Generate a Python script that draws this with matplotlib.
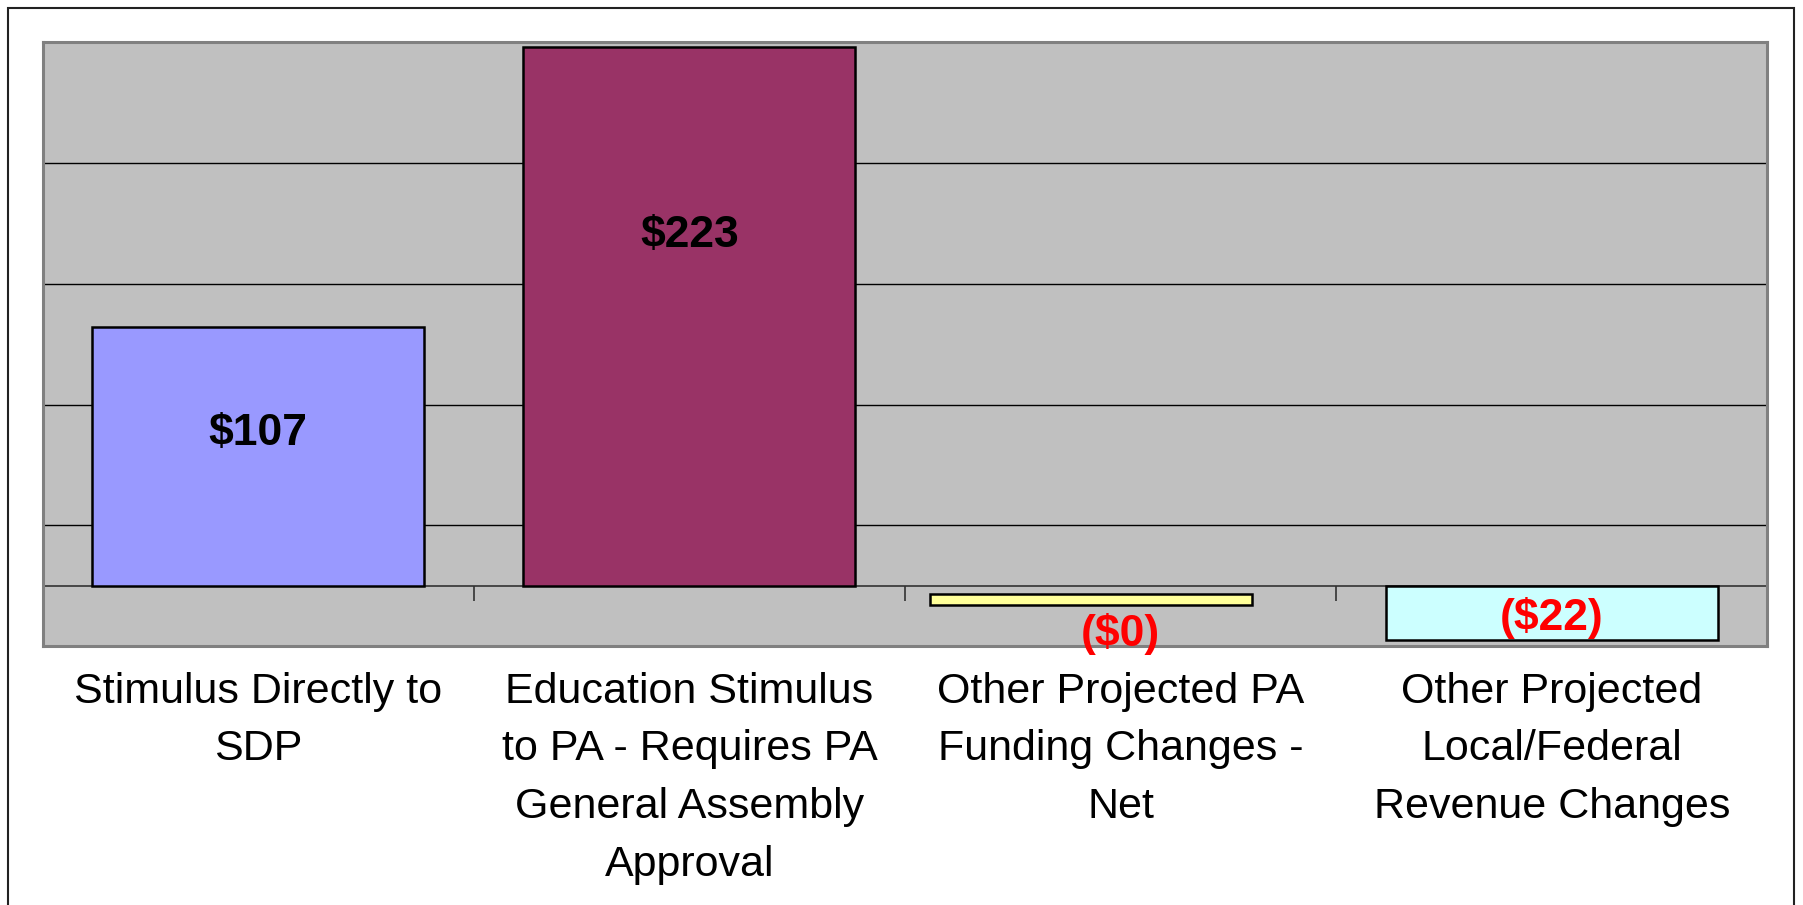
import matplotlib
matplotlib.use('Agg')
import matplotlib.pyplot as plt
import matplotlib.patches as patches

plt.rcParams['font.family'] = ['Liberation Sans', 'DejaVu Sans']

# Chart data
categories = [
    'Stimulus Directly to\nSDP',
    'Education Stimulus\nto PA - Requires PA\nGeneral Assembly\nApproval',
    'Other Projected PA\nFunding Changes -\nNet',
    'Other Projected\nLocal/Federal\nRevenue Changes',
]
values = [107, 223, -4.3, -22.5]
bar_bottoms = [0, 0, -3.6, 0]
value_labels = ['$107', '$223', '($0)', '($22)']
bar_colors = ['#9999FF', '#993366', '#FFFF99', '#CCFFFF']

fig = plt.figure(figsize=(18.03, 9.05), dpi=100)
fig.patch.set_facecolor('white')

# outer frame around the chart
fig.patches.append(patches.Rectangle((0.0045, -0.2), 0.9905, 1.191,
                                     transform=fig.transFigure, fill=False,
                                     edgecolor='#222222', linewidth=1.5))

ax = fig.add_axes([0.0236, 0.2862, 0.9567, 0.6669])
ax.set_facecolor('#C0C0C0')
for s in ax.spines.values():
    s.set_color('#808080')
    s.set_linewidth(2.2)

n = len(categories)
ax.set_xlim(-0.5, n - 0.5)
ax.set_ylim(-25, 225)

# gridlines
for g in [25, 75, 125, 175]:
    ax.axhline(g, color='black', linewidth=1.0, zorder=1)

# zero axis with ticks at category boundaries
ax.axhline(0, color='#333333', linewidth=1.2, zorder=1)
ax.vlines([i - 0.5 for i in range(n + 1)], -6.2, 0,
          color='#333333', linewidth=1.2, zorder=1)

# the small yellow bar sits a bit left of its slot and is a bit narrower
x_shift = [0, 0, -0.069, 0]
widths = [0.77, 0.77, 0.745, 0.77]
xs = [i + x_shift[i] for i in range(n)]
ax.bar(xs, values, width=widths, bottom=bar_bottoms, color=bar_colors,
       edgecolor='black', linewidth=1.8, zorder=3)

# value labels (Excel-style placement)
label_y = [63, 145, -20, -13.3]
for i, (lab, v) in enumerate(zip(value_labels, values)):
    col = 'black' if v > 0 else '#FF0000'
    ax.text(i, label_y[i], lab, ha='center', va='center', fontsize=32,
            fontweight='bold', color=col, zorder=5, clip_on=False)

for i, cat in enumerate(categories):
    ax.annotate(cat, xy=(i, -25), xytext=(0, -18.5), textcoords='offset points',
                ha='center', va='top', fontsize=31, linespacing=1.57)

ax.set_xticks([])
ax.set_yticks([])

fig.savefig('out.png', dpi=100)
